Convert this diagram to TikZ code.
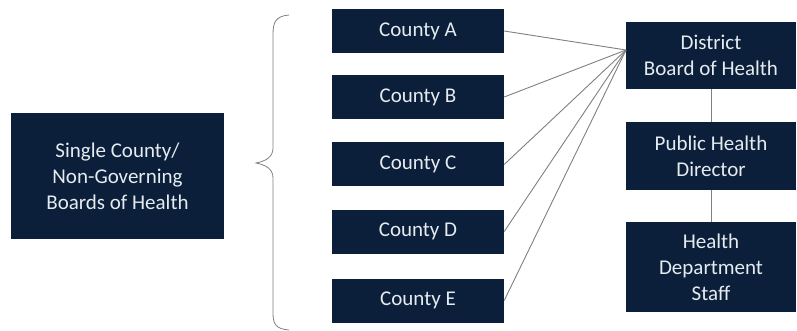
\documentclass[tikz,border=0pt]{standalone}
\usepackage{fontspec}
\setmainfont{Carlito}
\definecolor{navy}{HTML}{0B1F3A}
\definecolor{boxtext}{HTML}{E6EBF0}
\definecolor{linkgray}{HTML}{808080}
\begin{document}
\begin{tikzpicture}[x=1pt,y=-1pt,
  box/.style={fill=navy,draw=none,text=boxtext,align=center,inner sep=0pt,
    font=\fontsize{21}{26}\selectfont},
  county/.style={box,minimum width=172pt,minimum height=44pt},
  rightbox/.style={box,minimum width=170pt},
  link/.style={draw=linkgray,line width=0.9pt}]
\useasboundingbox (0,0) rectangle (797,331);

% left-hand group
\node[box,minimum width=213pt,minimum height=126pt] (single) at (117.5,176)
  {Single County/\\Non-Governing\\Boards of Health};

% the five counties
\node[county] (ca) at (418,31)    {County A};
\node[county] (cb) at (418,97)    {County B};
\node[county] (cc) at (418,164.5) {County C};
\node[county] (cd) at (418,231.5) {County D};
\node[county] (ce) at (418,300.5) {County E};

% district hierarchy
\node[rightbox,minimum height=67pt] (dbh) at (711,55.5) {District\\Board of Health};
\node[rightbox,minimum height=68pt] (phd) at (711,156)  {Public Health\\Director};
\node[rightbox,minimum height=90pt] (hds) at (711,267)  {Health\\Department\\Staff};

% brace grouping the counties
\draw[link,line width=0.8pt] (289,15) .. controls (276,16) and (273,22) .. (273,34)
  -- (273,148) .. controls (273,157) and (266,161) .. (256,163)
  .. controls (266,165) and (273,169) .. (273,178)
  -- (273,313) .. controls (273,324) and (276,329) .. (289,330);

% counties feed into the district board
\coordinate (hub) at (626,50);
\foreach \c in {ca,cb,cc,cd,ce}
  \draw[link] (\c.east) -- (hub);

% chain of command
\draw[link] (dbh.south) -- (phd.north);
\draw[link] (phd.south) -- (hds.north);
\end{tikzpicture}
\end{document}
